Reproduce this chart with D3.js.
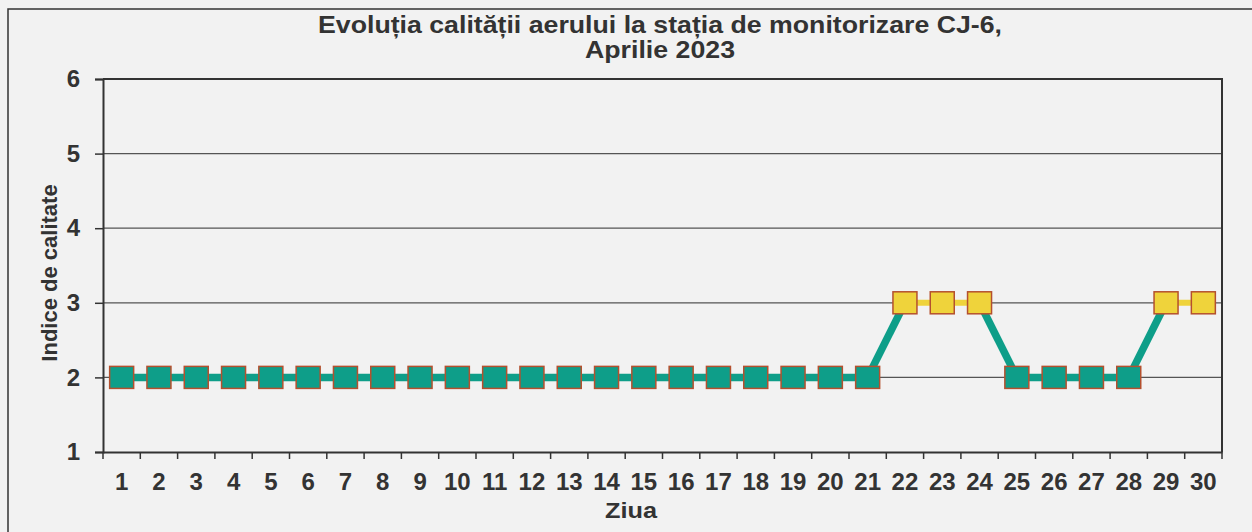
<!DOCTYPE html>
<html><head><meta charset="utf-8">
<script src="https://cdn.jsdelivr.net/npm/d3@7"></script>
<style>
html,body{margin:0;padding:0;background:#f2f2f2;}
svg{display:block;}
text{font-family:"Liberation Sans",Arial,sans-serif;font-weight:bold;fill:#333;}
</style></head><body>
<svg id="c" width="1252" height="532"></svg>
<script>
const days = d3.range(1, 31).map(String);
const values = [2,2,2,2,2,2,2,2,2,2,2,2,2,2,2,2,2,2,2,2,2,3,3,3,2,2,2,2,3,3];
const yTicks = [1,2,3,4,5,6];
const titleLines = ["Evoluția calității aerului la stația de monitorizare CJ-6,", "Aprilie 2023"];
const xLabel = "Ziua";
const yLabel = "Indice de calitate";

const svg = d3.select("#c");
const L = 103, R = 1222, T = 79, B = 452;
const x = d3.scaleBand().domain(days).range([L, R]);
const y = d3.scaleLinear().domain([1, 6]).range([B, T]);
const FF = "Liberation Sans, Arial, sans-serif";

// outer border (only top/left visible)
svg.append("path").attr("d", "M8,532 V9 H1252").attr("fill", "none").attr("stroke", "#333").attr("stroke-width", 1.5);

// gridlines
svg.append("g").selectAll("line").data(yTicks.filter(v => v > 1 && v < 6)).join("line")
  .attr("x1", L).attr("x2", R).attr("y1", d => y(d)).attr("y2", d => y(d))
  .attr("stroke", "#555").attr("stroke-width", 1.3);

// plot frame top & right
svg.append("path").attr("d", `M${L},${y(6)} H${R} V${B}`).attr("fill", "none").attr("stroke", "#333").attr("stroke-width", 2);

// y axis
const yAxis = svg.append("g").attr("transform", `translate(${L},0)`)
  .call(d3.axisLeft(y).tickValues(yTicks).tickFormat(d3.format("d")).tickSize(8).tickPadding(15));
yAxis.select(".domain").attr("stroke", "#333").attr("stroke-width", 2);
yAxis.selectAll(".tick line").attr("stroke", "#333").attr("stroke-width", 1.5);
yAxis.selectAll("text").style("font-size", "24px").attr("fill", "#333").attr("font-family", FF).attr("font-weight", "bold");

// x axis
const xAxis = svg.append("g").attr("transform", `translate(0,${B})`)
  .call(d3.axisBottom(x).tickSize(0).tickPadding(21));
xAxis.select(".domain").attr("stroke", "#333").attr("stroke-width", 2);
xAxis.selectAll("text").style("font-size", "24px").attr("fill", "#333").attr("font-family", FF).attr("font-weight", "bold");
// tick marks at band boundaries
const bounds = days.map(d => x(d)).concat([x(days[days.length-1]) + x.bandwidth()]);
svg.append("g").selectAll("line").data(bounds).join("line")
  .attr("x1", d => d).attr("x2", d => d).attr("y1", B).attr("y2", B + 7)
  .attr("stroke", "#333").attr("stroke-width", 1.5);

// line segments
const teal = "#0e9e89", yellow = "#efd33b";
const pts = days.map((d, i) => ({d, v: values[i], cx: x(d) + x.bandwidth()/2, cy: y(values[i])}));
const segs = d3.pairs(pts);
svg.append("g").selectAll("line").data(segs).join("line")
  .attr("x1", s => s[0].cx).attr("y1", s => s[0].cy)
  .attr("x2", s => s[1].cx).attr("y2", s => s[1].cy)
  .attr("stroke", s => (s[0].v === 3 && s[1].v === 3) ? yellow : teal)
  .attr("stroke-width", s => (s[0].v === 3 && s[1].v === 3) ? 6 : 7.5);

// markers
const mw = 24, mh = 22;
svg.append("g").selectAll("rect").data(pts).join("rect")
  .attr("x", p => p.cx - mw/2).attr("y", p => p.cy - mh/2)
  .attr("width", mw).attr("height", mh)
  .attr("fill", p => p.v === 3 ? yellow : teal)
  .attr("stroke", "#b4502e").attr("stroke-width", 1.5);

// title
svg.append("text").attr("x", 660).attr("y", 33).attr("text-anchor", "middle").style("font-size", "24px")
  .attr("textLength", 684).attr("lengthAdjust", "spacingAndGlyphs").text(titleLines[0]);
svg.append("text").attr("x", 660).attr("y", 58).attr("text-anchor", "middle").style("font-size", "24px")
  .attr("textLength", 150).attr("lengthAdjust", "spacingAndGlyphs").text(titleLines[1]);

// axis labels
svg.append("text").attr("x", 631).attr("y", 518).attr("text-anchor", "middle").style("font-size", "22px")
  .attr("textLength", 52).attr("lengthAdjust", "spacingAndGlyphs").text(xLabel);
svg.append("text").attr("transform", "translate(57,273) rotate(-90)").attr("text-anchor", "middle").style("font-size", "22px").text(yLabel);
</script>
</body></html>
